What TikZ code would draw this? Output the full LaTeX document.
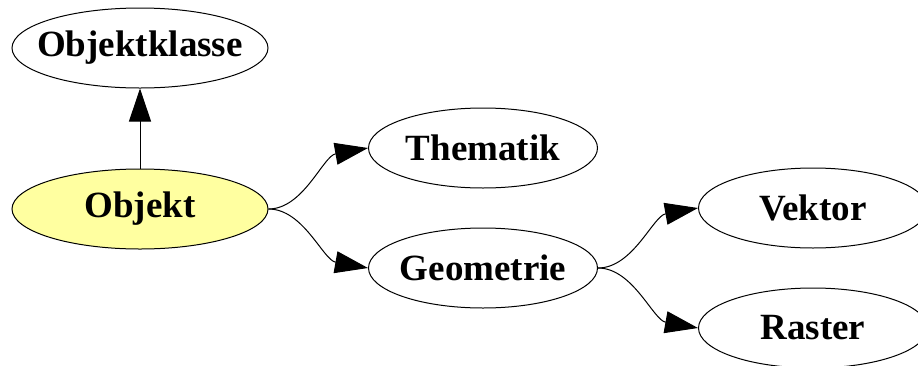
\documentclass[tikz,border=0pt]{standalone}
\usepackage{fontspec}
\setmainfont{Liberation Serif}
\usetikzlibrary{shapes.geometric,arrows.meta}

\tikzset{every picture/.style={line width=0.75pt}}

\begin{document}
\begin{tikzpicture}[x=0.75pt,y=0.75pt,yscale=-1,xscale=1,
  oval/.style={ellipse, draw, inner xsep=-12pt, inner ysep=0pt, minimum width=171.75pt, minimum height=60pt,
    font=\fontsize{27.75}{30}\selectfont\bfseries},
  breit/.style={oval, minimum width=192pt},
  pfeil/.style={-{Triangle[length=24.75pt,width=16.5pt]}}]
\useasboundingbox (0,0) rectangle (918,365);

%Shape: Ellipse [Objektklasse]
\node [breit] (klasse) at (140,48) {Objektklasse};
%Shape: Ellipse [Objekt]
\node [breit, fill={rgb, 255:red, 255; green, 255; blue, 160 }] (objekt) at (140,209) {Objekt};
%Shape: Ellipse [Thematik]
\node [oval] (thematik) at (483,148) {Thematik};
%Shape: Ellipse [Geometrie]
\node [oval] (geometrie) at (483,268) {Geometrie};
%Shape: Ellipse [Vektor]
\node [oval] (vektor) at (813,208) {Vektor};
%Shape: Ellipse [Raster]
\node [oval] (raster) at (813,328) {Raster};

%Straight Lines
\draw [pfeil] (objekt) -- (klasse) ;
%Curve Lines
\draw [pfeil] (objekt.east) .. controls +(35,0) and +(-45,8) .. (thematik.west) ;
\draw [pfeil] (objekt.east) .. controls +(35,0) and +(-45,-8) .. (geometrie.west) ;
\draw [pfeil] (geometrie.east) .. controls +(35,0) and +(-45,8) .. (vektor.west) ;
\draw [pfeil] (geometrie.east) .. controls +(35,0) and +(-45,-8) .. (raster.west) ;

\end{tikzpicture}
\end{document}
